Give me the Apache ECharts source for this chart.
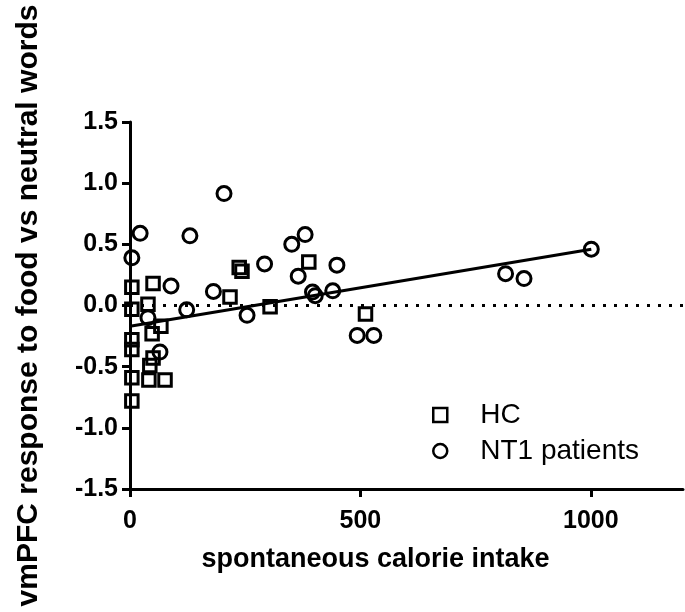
<!DOCTYPE html>
<html>
<head>
<meta charset="utf-8">
<script src="https://cdn.jsdelivr.net/npm/echarts@6/dist/echarts.min.js"></script>
<style>html,body{margin:0;padding:0;background:#fff}#c{width:685px;height:612px}</style>
</head>
<body>
<div id="c"></div>
<script>
// HC (squares): [calorie intake, vmPFC response]
var hcX = [4, 4, 4, 4, 4, 4, 50, 39, 67, 48, 50, 43, 41, 76, 237, 243, 217, 304, 388, 511];
var hcY = [0.15, -0.03, -0.28, -0.36, -0.59, -0.78, 0.18, 0.01, -0.17, -0.23, -0.43, -0.49, -0.61, -0.61, 0.31, 0.28, 0.07, -0.01, 0.355, -0.07];
// NT1 patients (circles)
var ntX = [4, 22, 204, 130, 39, 89, 123, 181, 254, 292, 65, 351, 365, 380, 396, 402, 440, 449, 493, 529, 815, 855, 1001];
var ntY = [0.39, 0.59, 0.915, 0.57, -0.10, 0.16, -0.035, 0.115, -0.08, 0.34, -0.38, 0.50, 0.24, 0.58, 0.11, 0.08, 0.12, 0.33, -0.245, -0.245, 0.26, 0.22, 0.46];
// regression line end points
var fitX = [0, 1001];
var fitY = [-0.17, 0.46];
var xTicks = [0, 500, 1000];

function pairs(xs, ys) { return xs.map(function (x, i) { return [x, ys[i]]; }); }

var chart = echarts.init(document.getElementById('c'), null, { renderer: 'canvas' });
var font = '"Liberation Sans", Arial, sans-serif';
chart.setOption({
  animation: false,
  backgroundColor: '#fff',
  textStyle: { fontFamily: font },
  grid: { left: 130, right: 2, top: 122, bottom: 123, containLabel: false },
  legend: {
    orient: 'vertical', left: 427, top: 396, itemGap: 8,
    itemWidth: 14, itemHeight: 14,
    data: ['HC', 'NT1 patients'],
    textStyle: { fontFamily: font, fontSize: 28, color: '#000', padding: [0, 0, 0, 28] },
    itemStyle: { color: 'rgba(0,0,0,0)', borderColor: '#000', borderWidth: 2.5 }
  },
  xAxis: {
    type: 'value', min: 0, max: 1200, interval: 500,
    name: 'spontaneous calorie intake', nameLocation: 'middle', nameGap: 57,
    nameTextStyle: { fontFamily: font, fontSize: 27, fontWeight: 'bold', color: '#000', padding: [0, 62, 0, 0] },
    axisLine: { onZero: false, lineStyle: { color: '#000', width: 3 } },
    axisTick: { show: true, length: 8, lineStyle: { color: '#000', width: 3 }, customValues: xTicks },
    axisLabel: { fontFamily: font, fontSize: 25, fontWeight: 'bold', color: '#000', margin: 20, customValues: xTicks,
      formatter: function (v) { return String(v); } },
    splitLine: { show: false }
  },
  yAxis: {
    type: 'value', min: -1.5, max: 1.5, interval: 0.5,
    name: 'vmPFC response to food vs neutral words', nameLocation: 'middle', nameGap: 86,
    nameTextStyle: { fontFamily: font, fontSize: 30, fontWeight: 'bold', color: '#000' },
    axisLine: { show: true, onZero: false, lineStyle: { color: '#000', width: 3 } },
    axisTick: { show: true, length: 8, lineStyle: { color: '#000', width: 3 } },
    axisLabel: { fontFamily: font, fontSize: 25, fontWeight: 'bold', color: '#000', margin: 12,
      formatter: function (v) { return v.toFixed(1); } },
    splitLine: { show: false }
  },
  series: [
    {
      name: 'fit', type: 'line', data: pairs(fitX, fitY), symbol: 'none', silent: true,
      lineStyle: { color: '#000', width: 3 }, z: 1,
      markLine: {
        silent: true, symbol: ['none', 'none'], label: { show: false },
        lineStyle: { color: '#000', width: 3, type: [3, 8] },
        data: [{ yAxis: 0 }]
      }
    },
    {
      name: 'HC', type: 'scatter', data: pairs(hcX, hcY), symbol: 'rect', symbolSize: 12.5, z: 3,
      itemStyle: { color: 'rgba(0,0,0,0)', borderColor: '#000', borderWidth: 3, opacity: 1 }
    },
    {
      name: 'NT1 patients', type: 'scatter', data: pairs(ntX, ntY), symbol: 'circle', symbolSize: 14, z: 3,
      itemStyle: { color: 'rgba(0,0,0,0)', borderColor: '#000', borderWidth: 3, opacity: 1 }
    }
  ]
});
</script>
</body>
</html>
